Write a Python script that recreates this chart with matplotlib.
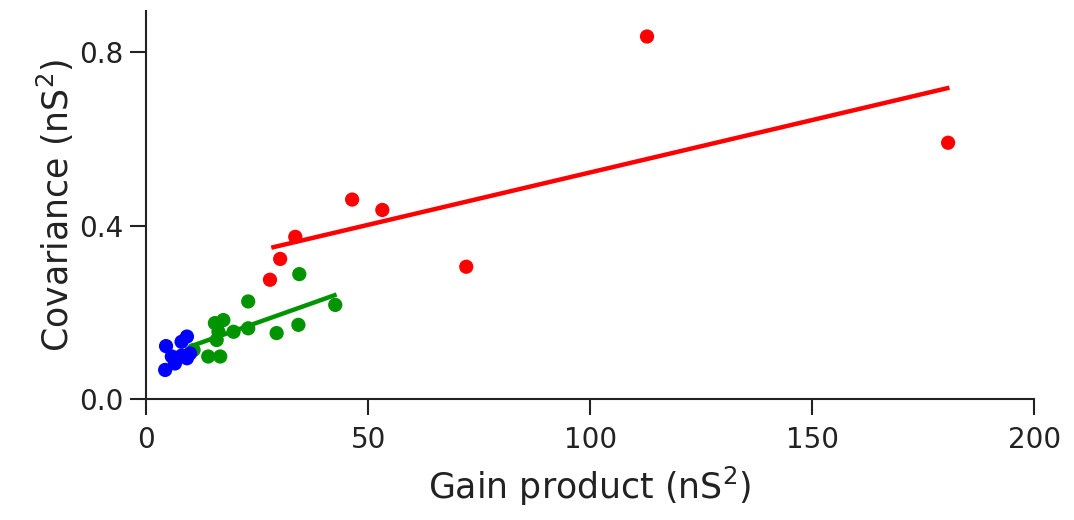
import matplotlib
matplotlib.use("Agg")
import matplotlib.pyplot as plt

# Gain product (nS^2) vs covariance (nS^2) for three groups
blue_x = [4.5, 4.3, 9.2, 8.0, 6.5, 5.8, 9.2, 9.9, 8.0]
blue_y = [0.122, 0.067, 0.144, 0.132, 0.082, 0.098, 0.094, 0.105, 0.100]

green_x = [10.7, 14.0, 16.7, 15.5, 17.4, 16.3, 15.9, 19.7, 23.0, 23.0, 29.4, 34.3, 34.5, 42.6]
green_y = [0.113, 0.098, 0.098, 0.175, 0.182, 0.155, 0.136, 0.155, 0.163, 0.225, 0.152, 0.171, 0.288, 0.217]

red_x = [27.9, 30.2, 33.6, 46.4, 53.2, 72.1, 112.8, 180.6]
red_y = [0.275, 0.323, 0.374, 0.460, 0.436, 0.305, 0.836, 0.591]

# Linear fit endpoints for each group
green_fit_x = [9.9, 42.9]
green_fit_y = [0.121, 0.241]
red_fit_x = [28.2, 180.9]
red_fit_y = [0.349, 0.718]

x_ticks = [0, 50, 100, 150, 200]
y_ticks = [0.0, 0.4, 0.8]

RED = "#ff0000"
GREEN = "#009400"
BLUE = "#0000ff"

fig = plt.figure(figsize=(10.74, 5.2), dpi=100)
ax = fig.add_axes([0.136, 0.2327, 0.963 - 0.136, 0.979 - 0.2327])

ms = 105
ax.scatter(red_x, red_y, s=ms, color=RED, edgecolors="none", zorder=3)
ax.plot(red_fit_x, red_fit_y, color=RED, lw=3.2, solid_capstyle="butt", zorder=3)
ax.scatter(green_x, green_y, s=ms, color=GREEN, edgecolors="none", zorder=3)
ax.plot(green_fit_x, green_fit_y, color=GREEN, lw=3.2, solid_capstyle="butt", zorder=3)
ax.scatter(blue_x, blue_y, s=ms, color=BLUE, edgecolors="none", zorder=4)

ax.set_xlim(0, 200)
ax.set_ylim(0, 0.895)
ax.set_xticks(x_ticks)
ax.set_xticklabels([str(v) for v in x_ticks])
ax.set_yticks(y_ticks)
ax.set_yticklabels([f"{v:.1f}" for v in y_ticks])

for side in ("top", "right"):
    ax.spines[side].set_visible(False)
for side in ("left", "bottom"):
    ax.spines[side].set_linewidth(1.5)
    ax.spines[side].set_color("#222222")

ax.tick_params(direction="out", length=11.5, width=1.5, color="#222222",
               labelsize=20, labelcolor="#222222")
ax.tick_params(axis="x", pad=8)
ax.tick_params(axis="y", pad=5)

ax.set_xlabel("Gain product (nS$^2$)", fontsize=25, color="#222222", labelpad=8)
ax.set_ylabel("Covariance (nS$^2$)", fontsize=25, color="#222222", labelpad=2)

fig.savefig("out.png", dpi=100)
